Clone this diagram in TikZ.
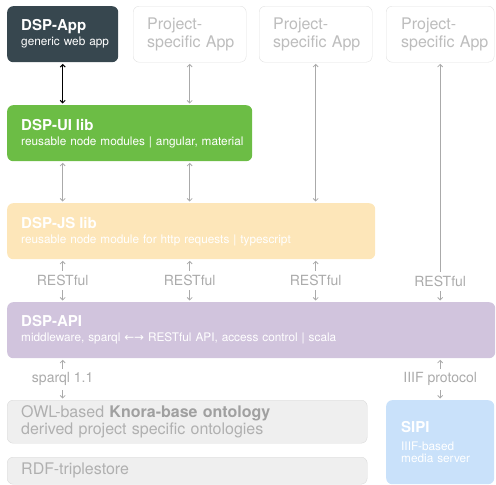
\documentclass[tikz,border=0pt]{standalone}
\usepackage{fontspec}
\setmainfont{TeX Gyre Heros}
\newfontfamily\arrowfont{DejaVu Sans}
\usetikzlibrary{arrows.meta}

\definecolor{appdark}{HTML}{37474F}
\definecolor{uigreen}{HTML}{6CBD45}
\definecolor{jsorange}{HTML}{FDE6B9}
\definecolor{apipurple}{HTML}{D1C4DD}
\definecolor{sipiblue}{HTML}{C9E1FA}
\definecolor{projline}{HTML}{E0E0E0}
\definecolor{projtext}{HTML}{BDBDBD}
\definecolor{storefill}{HTML}{EFEFEF}
\definecolor{storeline}{HTML}{DADADA}
\definecolor{storetext}{HTML}{B0B0B0}
\definecolor{storebold}{HTML}{A0A0A0}
\definecolor{linkgray}{HTML}{AAAAAA}
\definecolor{labelgray}{HTML}{ABABAB}

\newcommand{\boxhead}[1]{{\fontsize{15}{17}\selectfont\bfseries #1}}

\tikzset{
  box/.style={anchor=north west, rounded corners=6pt, inner xsep=14pt,
    inner ysep=0pt, align=left, minimum height=56pt, text=white,
    font=\fontsize{11.8}{15}\selectfont},
  projbox/.style={box, fill=white, draw=projline, text=projtext,
    font=\fontsize{16}{18}\selectfont},
  storebox/.style={box, fill=storefill, draw=storeline, text=storetext,
    font=\fontsize{16}{17}\selectfont},
  link/.style={draw=linkgray, line width=0.8pt,
    {Straight Barb[length=2.5pt,width=5pt]}-{Straight Barb[length=2.5pt,width=5pt]},
    shorten >=1.5pt, shorten <=1.5pt},
  proto/.style={fill=white, text=labelgray, inner xsep=2pt, inner ysep=4pt,
    font=\fontsize{14}{16}\selectfont},
}

\begin{document}
\begin{tikzpicture}[x=1pt,y=-1pt]
\useasboundingbox (0,0) rectangle (496,485);

% apps
\node[box, fill=appdark, text width=83pt] (app) at (7,6)
	{\boxhead{DSP-App}\\\mbox{generic web app}};
\node[projbox, text width=85pt] (proj1) at (133,6)
	{Project-\\\mbox{specific App}};
\node[projbox, text width=85pt] (proj2) at (259,6)
	{Project-\\\mbox{specific App}};
\node[projbox, inner xsep=15pt, text width=78pt] (proj3) at (386,6)
	{Project-\\\mbox{specific App}};

% libs
\node[box, fill=uigreen, text width=217pt] (ui) at (7,105)
	{\boxhead{DSP-UI lib}\\\mbox{reusable node modules | angular, material}};
\node[box, fill=jsorange, text width=340pt] (js) at (7,203)
	{\boxhead{DSP-JS lib}\\reusable node module for http requests | typescript};
\node[box, fill=apipurple, text width=460pt] (api) at (7,302)
	{\boxhead{DSP-API}\\middleware, sparql {\arrowfont ←→} RESTful API, access control | scala};

% storage
\node[storebox, minimum height=43pt, text width=332pt] (owl) at (7,400)
	{OWL-based {\color{storebold}\bfseries Knora-base ontology}\\derived project specific ontologies};
\node[storebox, minimum height=27pt, text width=332pt] (rdf) at (7,457)
	{RDF-triplestore};
\node[box, fill=sipiblue, minimum height=84pt, inner xsep=15pt, text width=78pt,
	font=\fontsize{11.8}{12}\selectfont] (sipi) at (386,400)
	{\boxhead{SIPI}\\[6pt]IIIF-based\\\mbox{media server}};

\draw[link, draw=black, line width=1pt] (app.south) -- (app.south |- ui.north);
\draw[link] (proj1.south) -- (proj1.south |- ui.north);
\draw[link] (ui.south -| app.south) -- (app.south |- js.north);
\draw[link] (ui.south -| proj1.south) -- (proj1.south |- js.north);
\draw[link] (proj2.south) -- (proj2.south |- js.north);
\draw[link] (proj3.south) -- node[proto, pos=0.915] {RESTful} (proj3.south |- api.north);

\draw[link] (js.south -| app.south) -- node[proto] {RESTful} (app.south |- api.north);
\draw[link] (js.south -| proj1.south) -- node[proto] {RESTful} (proj1.south |- api.north);
\draw[link] (js.south -| proj2.south) -- node[proto] {RESTful} (proj2.south |- api.north);

\draw[link] (api.south -| app.south) -- node[proto] {sparql 1.1} (app.south |- owl.north);
\draw[link] (api.south -| sipi.north) -- node[proto] {IIIF protocol} (sipi.north);
\end{tikzpicture}
\end{document}
